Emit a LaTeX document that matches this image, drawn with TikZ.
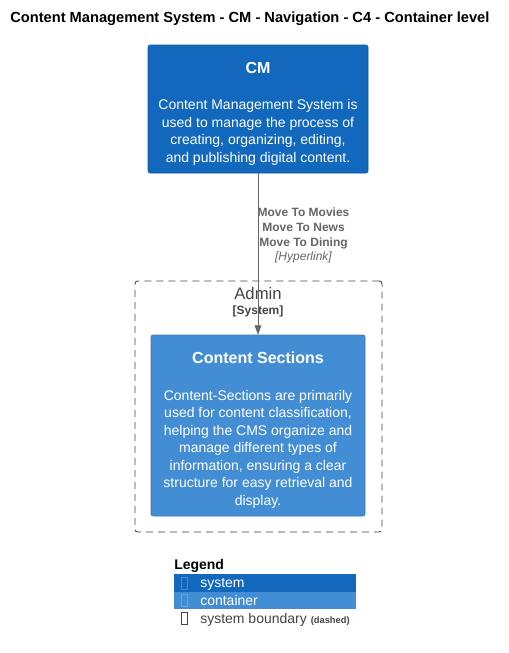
\documentclass[tikz,border=0pt]{standalone}
\usepackage{fontspec}
\setmainfont{Liberation Sans}
\usetikzlibrary{arrows.meta}

\definecolor{sysblue}{HTML}{1168BD}
\definecolor{conblue}{HTML}{438DD5}
\definecolor{relgray}{HTML}{666666}
\definecolor{bndgray}{HTML}{444444}

\newcommand{\boxtitle}[1]{{\rule{0pt}{15.5pt}\fontsize{12}{14}\selectfont\bfseries #1}}

\tikzset{
  sysbox/.style={fill=sysblue, draw=sysblue!85!black, rounded corners=1.5pt, text=white, align=center, inner sep=0pt,
    font=\fontsize{10.5}{13.1}\selectfont},
  conbox/.style={fill=conblue, draw=conblue!85!black, rounded corners=1.5pt, text=white, align=center, inner sep=0pt,
    font=\fontsize{10.5}{13.1}\selectfont},
  bndbox/.style={draw=bndgray, line width=0.7pt, dash pattern=on 5.25pt off 3.75pt, rounded corners=2pt},
  rel/.style={draw=relgray, -{Triangle[length=7pt,width=5pt]}},
  rellabel/.style={text=relgray, font=\fontsize{9}{11.2}\selectfont\bfseries, align=center, inner sep=0pt},
  tofu/.style={draw=#1, line width=0.5pt}
}

\begin{document}
\begin{tikzpicture}[x=0.75pt, y=-0.75pt]
  \useasboundingbox (0,0) rectangle (508,653);
  \fill [white] (0,0) rectangle (508,653);

  \node [anchor=west, inner sep=0pt, font=\fontsize{11}{13}\selectfont\bfseries] (title) at (10,19)
    {Content Management System - CM - Navigation - C4 - Container level};

  \node [sysbox, minimum width=165pt, minimum height=96pt] (cm) at (258,109)
    {\boxtitle{CM}\\[13.8pt]
     Content Management System is\\
     used to manage the process of\\
     creating, organizing, editing,\\
     and publishing digital content.};

  \node [bndbox, minimum width=185.25pt, minimum height=188.25pt] (admin) at (258.5,406.5) {};
  \node [text=bndgray, inner sep=0pt, font=\fontsize{12.5}{14}\selectfont] (adminname) at (258,294) {Admin};
  \node [text=bndgray, inner sep=0pt, font=\fontsize{9}{10}\selectfont\bfseries] (admintype) at (258,311) {[System]};

  \node [conbox, minimum width=160.5pt, minimum height=135.75pt] (cs) at (258,425.5)
    {\boxtitle{Content Sections}\\[14.6pt]
     Content-Sections are primarily\\
     used for content classification,\\
     helping the CMS organize and\\
     manage different types of\\
     information, ensuring a clear\\
     structure for easy retrieval and\\
     display.};

  \draw [rel] (cm.south) -- (cs.north)
    node [rellabel, pos=0.385, right=-0.5pt] (navlabel)
    {Move To Movies\\Move To News\\Move To Dining\\{\mdseries\itshape [Hyperlink]}};

  % legend
  \node [anchor=west, inner sep=0pt, font=\fontsize{10.5}{12}\selectfont\bfseries] (legend) at (174,566) {Legend};
  \fill [sysblue] (174,574) rectangle (356,592);
  \fill [conblue] (174,592) rectangle (356,609);
  \draw [tofu=white!22!sysblue] (181.5,577.5) rectangle (187.5,589.5);
  \draw [tofu=white!18!conblue] (181.5,594.5) rectangle (187.5,606.5);
  \draw [tofu=bndgray] (181.5,612.5) rectangle (187.5,624.5);
  \node [anchor=west, inner sep=0pt, text=white, font=\fontsize{10.5}{12}\selectfont] (lsys) at (200,584.5) {system};
  \node [anchor=west, inner sep=0pt, text=white, font=\fontsize{10.5}{12}\selectfont] (lcon) at (200,600.5) {container};
  \node [anchor=west, inner sep=0pt, text=bndgray, font=\fontsize{10.5}{12}\selectfont] (lbnd) at (200,620)
    {system boundary {\fontsize{7}{8}\selectfont\bfseries (dashed)}};
\end{tikzpicture}
\end{document}
